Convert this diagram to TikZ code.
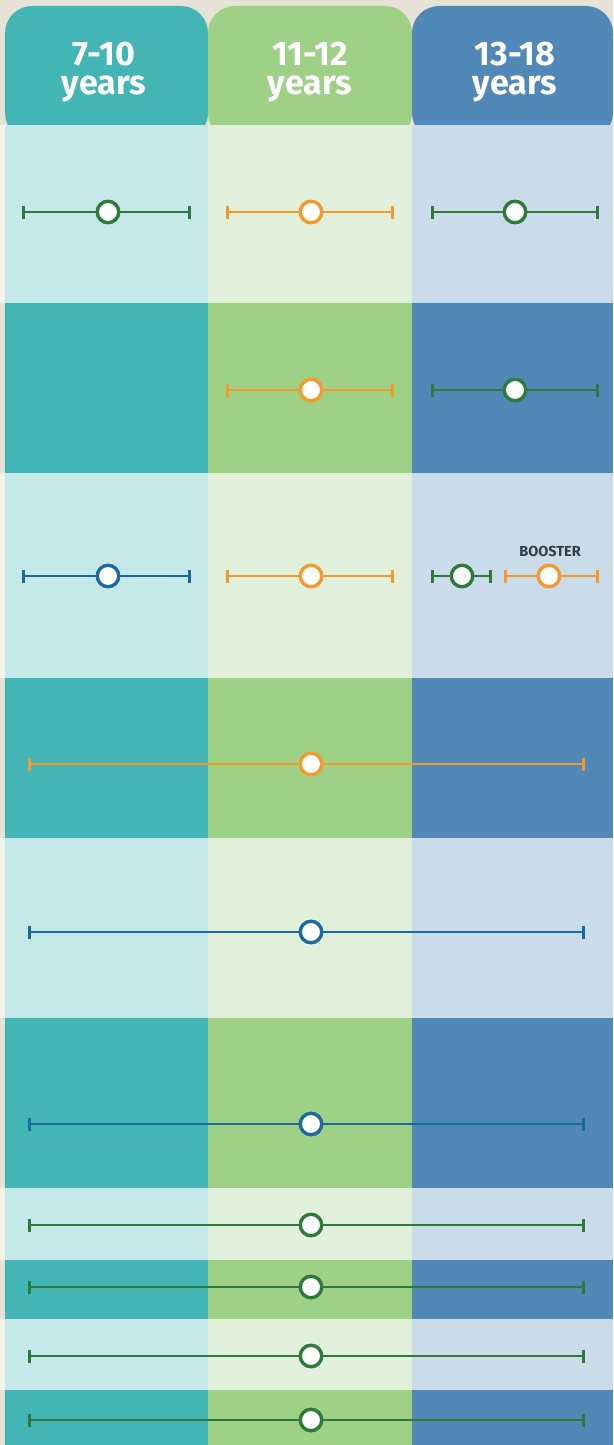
\documentclass[tikz,border=0pt]{standalone}
\usepackage{fontspec}
\setmainfont{Fira Sans}
\usetikzlibrary{arrows.meta}
\definecolor{beige}{HTML}{E6E2D6}
\definecolor{stripL}{HTML}{F6F3EE}
\definecolor{stripD}{HTML}{E6E2D6}
\definecolor{tealD}{HTML}{43B5B5}
\definecolor{tealL}{HTML}{C5E9E8}
\definecolor{greenD}{HTML}{9ED086}
\definecolor{greenL}{HTML}{E1F0DA}
\definecolor{blueD}{HTML}{5089B8}
\definecolor{blueL}{HTML}{CADCEA}
\definecolor{lnGreen}{HTML}{2E7A3A}
\definecolor{lnOrange}{HTML}{F39A2C}
\definecolor{lnBlue}{HTML}{1A6AA0}
\definecolor{txtDark}{HTML}{333D45}
\tikzset{
  dot/.style={circle,fill=white,line width=3.4pt,minimum size=21.5pt,inner sep=0pt},
  barline/.style={line width=2.8pt},
  lefttip/.style={{Bar[width=13pt,line width=2.8pt]}-},
  righttip/.style={-{Bar[width=13pt,line width=2.8pt]}},
  headtext/.style={text=white,font=\fontsize{34}{30}\selectfont\bfseries,inner sep=0pt,anchor=base},
}
\newcommand\mybar[6]{% name, x1, x2, xc, y, color
  \coordinate (#1L) at (#2,#5);
  \coordinate (#1R) at (#3,#5);
  \node[dot,draw=#6] (#1) at (#4,#5) {};
  \draw[barline,draw=#6,lefttip] (#1L) -- (#1);
  \draw[barline,draw=#6,righttip] (#1) -- (#1R);
}
\begin{document}
\begin{tikzpicture}[x=1pt,y=-1pt]
\useasboundingbox (0,0) rectangle (613,1445);
\fill[beige] (0,0) rectangle (613,1445);
% headers
\fill[tealD,rounded corners=27pt] (5,140) -- (5,6) -- (208,6) -- (208,140) -- cycle;
\fill[greenD,rounded corners=27pt] (208,140) -- (208,6) -- (412,6) -- (412,140) -- cycle;
\fill[blueD,rounded corners=27pt] (412,140) -- (412,6) -- (613,6) -- (613,140) -- cycle;
\node[headtext] (h1a) at (104,66) {7-10};
\node[headtext] (h1b) at (104,94) {years};
\node[headtext] (h2a) at (310,66) {11-12};
\node[headtext] (h2b) at (310,94) {years};
\node[headtext] (h3a) at (515,66) {13-18};
\node[headtext] (h3b) at (515,94) {years};
% rows
\foreach \ya/\yb/\kind in {125/303/L,303/473/D,473/678/L,678/838/D,838/1018/L,1018/1188/D,1188/1260/L,1260/1319/D,1319/1390/L,1390/1445/D}{
  \fill[strip\kind] (0,\ya) rectangle (5,\yb);
  \fill[teal\kind] (5,\ya) rectangle (208,\yb);
  \fill[green\kind] (208,\ya) rectangle (412,\yb);
  \fill[blue\kind] (412,\ya) rectangle (613,\yb);
}
% row 1
\mybar{aa}{22}{191}{108}{212}{lnGreen}
\mybar{ab}{226}{394}{311}{212}{lnOrange}
\mybar{ac}{431}{599}{515}{212}{lnGreen}
% row 2
\mybar{bb}{226}{394}{311}{390}{lnOrange}
\mybar{bc}{431}{599}{515}{390}{lnGreen}
% row 3
\mybar{ca}{22}{191}{108}{576}{lnBlue}
\mybar{cb}{226}{394}{311}{576}{lnOrange}
\mybar{cc}{431}{492}{462}{576}{lnGreen}
\mybar{cd}{504}{599}{549}{576}{lnOrange}
\node[text=txtDark,font=\fontsize{14.5}{14.5}\selectfont\bfseries,anchor=base] (boost) at (550,556) {BOOSTER};
% rows 4-10
\mybar{d}{28}{585}{311}{764}{lnOrange}
\mybar{e}{28}{585}{311}{932}{lnBlue}
\mybar{f}{28}{585}{311}{1124}{lnBlue}
\mybar{g}{28}{585}{311}{1225}{lnGreen}
\mybar{h}{28}{585}{311}{1287}{lnGreen}
\mybar{i}{28}{585}{311}{1356}{lnGreen}
\mybar{j}{28}{585}{311}{1420}{lnGreen}
\end{tikzpicture}
\end{document}
